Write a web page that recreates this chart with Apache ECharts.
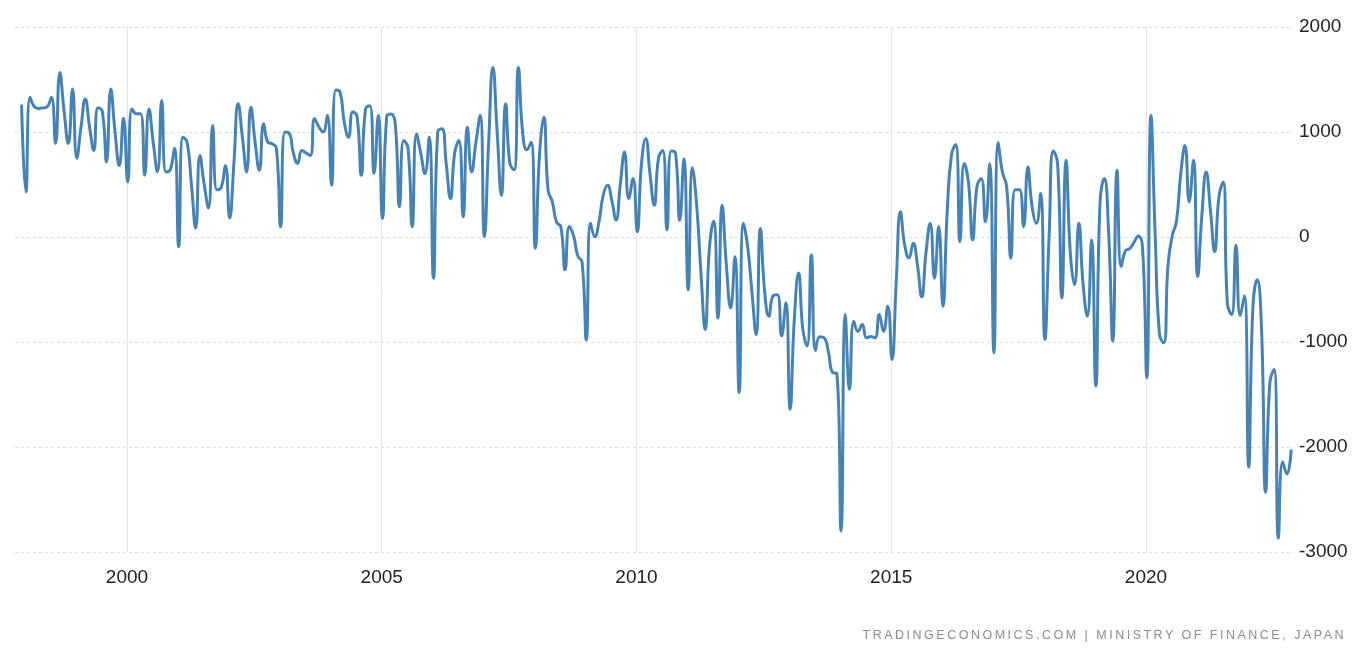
<!DOCTYPE html>
<html>
<head>
<meta charset="utf-8">
<script src="https://cdn.jsdelivr.net/npm/echarts@6/dist/echarts.min.js"></script>
<style>
html,body{margin:0;padding:0;background:#ffffff;}
#chart{width:1370px;height:648px;position:absolute;left:0;top:0;}
#src{position:absolute;right:24px;top:628px;font:12.5px "Liberation Sans",Arial,sans-serif;color:#8c8c8c;letter-spacing:2.5px;white-space:nowrap;}
</style>
</head>
<body>
<div id="chart"></div>
<div id="src">TRADINGECONOMICS.COM | MINISTRY OF FINANCE, JAPAN</div>
<script>
// Japan balance of trade, monthly (JPY billion), Dec 1997 - Nov 2022
const startYear = 1997;
const startMonth = 12;
const v1997 = [1250];
const v1998 = [430, 1330, 1240, 1225, 1230, 1240, 1330, 890, 1567, 1200, 890, 1410];
const v1999 = [750, 1050, 1315, 1050, 825, 1230, 1200, 714, 1410, 1000, 680, 1130];
const v2000 = [525, 1220, 1175, 1175, 588, 1220, 900, 620, 1300, 620, 640, 845];
const v2001 = [-92, 950, 900, 500, 85, 777, 500, 275, 1062, 450, 470, 682];
const v2002 = [180, 700, 1270, 950, 620, 1235, 900, 635, 1078, 903, 888, 850];
const v2003 = [98, 1000, 990, 800, 700, 825, 800, 777, 1128, 1050, 1000, 1156];
const v2004 = [493, 1400, 1380, 1093, 950, 1190, 1150, 588, 1220, 1250, 604, 1156];
const v2005 = [177, 1150, 1172, 1078, 287, 920, 850, 98, 980, 800, 604, 950];
const v2006 = [-392, 1000, 1030, 700, 367, 800, 920, 193, 1045, 620, 900, 1156];
const v2007 = [3, 900, 1614, 1000, 398, 1267, 700, 640, 1614, 1000, 830, 903];
const v2008 = [-107, 800, 1140, 445, 335, 140, 100, -313, 100, 10, -180, -240];
const v2009 = [-980, 130, 3, 150, 400, 493, 350, 161, 500, 809, 367, 556];
const v2010 = [51, 700, 935, 600, 303, 750, 825, 66, 820, 800, 160, 746];
const v2011 = [-502, 660, 300, -340, -881, -100, 150, -771, 303, -275, -676, -187];
const v2012 = [-1482, 130, -90, -520, -929, 82, -518, -755, -559, -549, -944, -628];
const v2013 = [-1640, -778, -344, -880, -1039, -171, -1080, -950, -960, -1090, -1290, -1300];
const v2014 = [-2800, -739, -1450, -803, -900, -834, -960, -948, -960, -739, -897, -660];
const v2015 = [-1166, -425, 240, -80, -200, -60, -270, -570, -150, 130, -392, 100];
const v2016 = [-660, 242, 780, 880, -44, 700, 520, -28, 480, 556, 145, 698];
const v2017 = [-1103, 900, 620, 480, -202, 450, 450, 98, 667, 285, 130, 414];
const v2018 = [-976, 0, 820, 700, -581, 730, -150, -455, 130, -449, -755, -28];
const v2019 = [-1419, 334, 556, 60, -992, 635, -280, -130, -110, -50, 10, -100];
const v2020 = [-1340, 1156, 0, -930, -1008, -270, 10, 150, 600, 872, 335, 730];
const v2021 = [-376, 217, 620, 255, -139, 383, 525, -637, -739, -76, -750, -560];
const v2022 = [-2190, -668, -408, -839, -2430, -1384, -1261, -2870, -2142, -2256, -2035];

const yearTicks = [2000, 2005, 2010, 2015, 2020];
const valueTicks = [-3000, -2000, -1000, 0, 1000, 2000];
const sourceText = 'TRADINGECONOMICS.COM | MINISTRY OF FINANCE, JAPAN';

const allValues = [].concat(v1997, v1998, v1999, v2000, v2001, v2002, v2003, v2004,
  v2005, v2006, v2007, v2008, v2009, v2010, v2011, v2012, v2013, v2014, v2015,
  v2016, v2017, v2018, v2019, v2020, v2021, v2022);

const seriesData = allValues.map(function (v, i) {
  const mIndex = (startMonth - 1) + i;
  const t = startYear + mIndex / 12 + 0.015;
  return [t, v];
});

document.getElementById('src').textContent = sourceText;

const chart = echarts.init(document.getElementById('chart'), null, {renderer: 'canvas'});
chart.setOption({
  animation: false,
  backgroundColor: '#ffffff',
  grid: {left: 15, right: 76, top: 27, bottom: 96, containLabel: false},
  xAxis: {
    type: 'value',
    min: 1997.802,
    max: 2022.905,
    axisLine: {show: false},
    axisTick: {show: false, customValues: yearTicks},
    axisLabel: {
      customValues: yearTicks,
      color: '#222222',
      fontSize: 19,
      fontFamily: 'Liberation Sans, Arial, sans-serif',
      margin: 16,
      formatter: function (v) { return String(Math.round(v)); }
    },
    splitLine: {show: true, lineStyle: {color: '#e4e4e4', width: 1, type: 'solid'}}
  },
  yAxis: {
    type: 'value',
    position: 'right',
    min: valueTicks[0],
    max: valueTicks[valueTicks.length - 1],
    interval: 1000,
    axisLine: {show: false},
    axisTick: {show: false},
    axisLabel: {
      color: '#222222',
      fontSize: 19,
      fontFamily: 'Liberation Sans, Arial, sans-serif',
      margin: 5,
      formatter: function (v) { return String(v); }
    },
    splitLine: {show: true, lineStyle: {color: '#dddddd', width: 1, type: [3, 3]}}
  },
  series: [{
    type: 'line',
    data: seriesData,
    smooth: 0.5,
    showSymbol: false,
    symbol: 'none',
    lineStyle: {color: '#4682b4', width: 3, cap: 'round', join: 'round'}
  }]
});
</script>
</body>
</html>
